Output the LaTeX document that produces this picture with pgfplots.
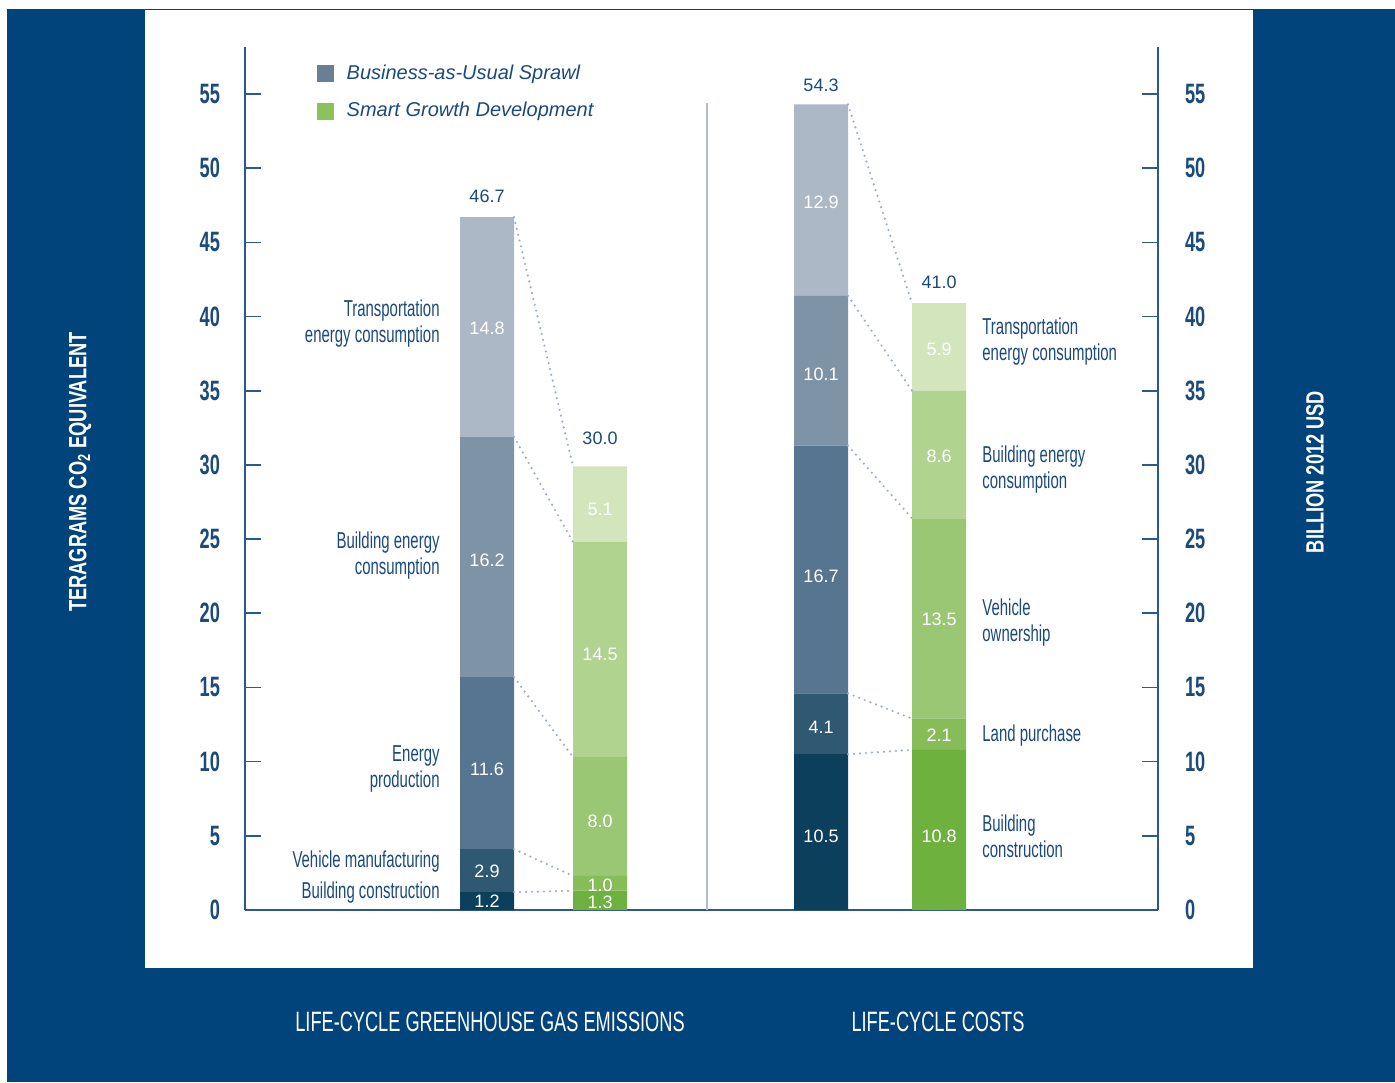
\documentclass[border=0pt]{standalone}
\usepackage{fontspec}
\setmainfont{Liberation Sans}
\newfontfamily\cond[FakeStretch=0.65]{Liberation Sans}
\newfontfamily\condw[FakeStretch=0.73]{Liberation Sans}
\usepackage{pgfplots}
\pgfplotsset{compat=1.18}

\definecolor{navy}{HTML}{00447B}
\definecolor{ink}{HTML}{1B4A7D}
\definecolor{axisc}{HTML}{2A5A8C}
\definecolor{divc}{HTML}{B4BCCB}
\definecolor{dotc}{HTML}{9DADCC}
\definecolor{bauA}{HTML}{0B3F5C}
\definecolor{bauB}{HTML}{2F5873}
\definecolor{bauC}{HTML}{577590}
\definecolor{bauD}{HTML}{7F93A7}
\definecolor{bauE}{HTML}{ADB8C6}
\definecolor{sgA}{HTML}{6EB13F}
\definecolor{sgB}{HTML}{86BD58}
\definecolor{sgC}{HTML}{99C773}
\definecolor{sgD}{HTML}{B0D490}
\definecolor{sgE}{HTML}{D2E5BC}
\definecolor{legbau}{HTML}{687F96}
\definecolor{legsg}{HTML}{8CC15E}

\begin{document}
\begin{tikzpicture}
% page frame, in pixel units of the reference
\begin{scope}[x=0.5pt,y=-0.5pt]
  \fill[white] (0,0) rectangle (1395,1082);
  \fill[navy] (7,9) rectangle (1395,1082);
  \fill[white] (145,10) rectangle (1253,968);
\end{scope}

\pgfplotsset{
  base/.style={
    at={(122.5pt,-455pt)}, anchor=south west,
    scale only axis, width=456.5pt, height=431.5pt,
    xmin=245, xmax=1158, ymin=0, ymax=58.17,
    xtick=\empty, ytick={0,5,...,55},
    tick align=inside, major tick length=8pt,
    tick style={axisc, line width=0.8pt},
    axis line style={axisc, line width=0.9pt, -},
    /pgf/number format/assume math mode=true,
    yticklabel style={font=\cond\bfseries\fontsize{14}{14}\selectfont, text=ink},
  },
}

\begin{axis}[base,
  axis y line*=left, axis x line*=bottom,
  yticklabel style={xshift=-9pt},
  ybar stacked, bar width=54, bar shift=0pt,
  legend style={draw=none, fill=none, at={(0.0717,0.989)}, anchor=north west,
    font=\itshape\fontsize{10}{12}\selectfont, text=ink, row sep=6pt,
    cells={anchor=west}},
  legend image code/.code={\fill[#1] (0pt,-4pt) rectangle (8pt,4pt); \path (12.5pt,0pt);},
]
\addlegendimage{legbau}
\addlegendimage{legsg}
\legend{Business-as-Usual Sprawl, Smart Growth Development}

% Business-as-usual layers (GHG at 487, costs at 821)
\addplot[fill=bauA, draw=none] coordinates {(487,1.2)(600,0)(821,10.5)(939,0)};
\addplot[fill=bauB, draw=none] coordinates {(487,2.9)(600,0)(821,4.1)(939,0)};
\addplot[fill=bauC, draw=none] coordinates {(487,11.6)(600,0)(821,16.7)(939,0)};
\addplot[fill=bauD, draw=none] coordinates {(487,16.2)(600,0)(821,10.1)(939,0)};
\addplot[fill=bauE, draw=none] coordinates {(487,14.8)(600,0)(821,12.9)(939,0)};
% Smart growth layers (GHG at 600, costs at 939)
\addplot[fill=sgA, draw=none] coordinates {(487,0)(600,1.3)(821,0)(939,10.8)};
\addplot[fill=sgB, draw=none] coordinates {(487,0)(600,1.0)(821,0)(939,2.1)};
\addplot[fill=sgC, draw=none] coordinates {(487,0)(600,8.0)(821,0)(939,13.5)};
\addplot[fill=sgD, draw=none] coordinates {(487,0)(600,14.5)(821,0)(939,8.6)};
\addplot[fill=sgE, draw=none] coordinates {(487,0)(600,5.1)(821,0)(939,5.9)};
\end{axis}

% right axis, also carries all annotations (drawn above the bars)
\begin{axis}[base,
  axis y line*=right, axis x line=none,
  yticklabel style={xshift=10pt},
]
% divider
\draw[divc, line width=0.6pt] (axis cs:707,0) -- (axis cs:707,54.4);

% dotted connectors
\tikzset{conn/.style={dotc, line width=1.2pt, line cap=round, dash pattern=on 0pt off 3pt}}
\draw[conn] (axis cs:514,46.7) -- (axis cs:573,29.9);
\draw[conn] (axis cs:514,31.9) -- (axis cs:573,24.8);
\draw[conn] (axis cs:514,15.7) -- (axis cs:573,10.3);
\draw[conn] (axis cs:514,4.1) -- (axis cs:573,2.3);
\draw[conn] (axis cs:514,1.2) -- (axis cs:573,1.3);
\draw[conn] (axis cs:848,54.3) -- (axis cs:912,40.9);
\draw[conn] (axis cs:848,41.4) -- (axis cs:912,35.0);
\draw[conn] (axis cs:848,31.3) -- (axis cs:912,26.4);
\draw[conn] (axis cs:848,14.6) -- (axis cs:912,12.9);
\draw[conn] (axis cs:848,10.5) -- (axis cs:912,10.8);

% values inside bars
\tikzset{inval/.style={white, font=\fontsize{9}{9}\selectfont, inner sep=0pt}}
\node[inval] at (axis cs:487,0.6) {1.2};
\node[inval] at (axis cs:487,2.6) {2.9};
\node[inval] at (axis cs:487,9.5) {11.6};
\node[inval] at (axis cs:487,23.6) {16.2};
\node[inval] at (axis cs:487,39.2) {14.8};
\node[inval] at (axis cs:600,0.55) {1.3};
\node[inval] at (axis cs:600,1.65) {1.0};
\node[inval] at (axis cs:600,5.95) {8.0};
\node[inval] at (axis cs:600,17.2) {14.5};
\node[inval] at (axis cs:600,27.0) {5.1};
\node[inval] at (axis cs:821,5.0) {10.5};
\node[inval] at (axis cs:821,12.3) {4.1};
\node[inval] at (axis cs:821,22.5) {16.7};
\node[inval] at (axis cs:821,36.1) {10.1};
\node[inval] at (axis cs:821,47.7) {12.9};
\node[inval] at (axis cs:939,5.0) {10.8};
\node[inval] at (axis cs:939,11.8) {2.1};
\node[inval] at (axis cs:939,19.6) {13.5};
\node[inval] at (axis cs:939,30.6) {8.6};
\node[inval] at (axis cs:939,37.8) {5.9};

% totals
\tikzset{tot/.style={ink, font=\fontsize{9}{9}\selectfont, inner sep=0pt}}
\node[tot] at (axis cs:487,48.1) {46.7};
\node[tot] at (axis cs:600,31.8) {30.0};
\node[tot] at (axis cs:821,55.6) {54.3};
\node[tot] at (axis cs:939,42.3) {41.0};

% category labels
\tikzset{cat/.style={ink, font=\cond\fontsize{11.5}{13}\selectfont, inner sep=0pt}}
\node[cat, anchor=east, align=right] at (axis cs:440,39.5) {Transportation\\energy consumption};
\node[cat, anchor=east, align=right] at (axis cs:440,23.9) {Building energy\\consumption};
\node[cat, anchor=east, align=right] at (axis cs:440,9.5) {Energy\\production};
\node[cat, anchor=east, align=right] at (axis cs:440,3.3) {Vehicle manufacturing};
\node[cat, anchor=east, align=right] at (axis cs:440,1.2) {Building construction};
\node[cat, anchor=west, align=left] at (axis cs:982,38.35) {Transportation\\energy consumption};
\node[cat, anchor=west, align=left] at (axis cs:982,29.66) {Building energy\\consumption};
\node[cat, anchor=west, align=left] at (axis cs:982,19.35) {Vehicle\\ownership};
\node[cat, anchor=west, align=left] at (axis cs:982,11.73) {Land purchase};
\node[cat, anchor=west, align=left] at (axis cs:982,4.99) {Building\\construction};
\end{axis}

% titles outside the panel
\begin{scope}[x=0.5pt,y=-0.5pt]
  \node[white, font=\cond\fontsize{14}{14}\selectfont] at (490,1022) {LIFE-CYCLE GREENHOUSE GAS EMISSIONS};
  \node[white, font=\cond\fontsize{14}{14}\selectfont] at (938,1022) {LIFE-CYCLE COSTS};
  \node[white, rotate=90, font=\condw\bfseries\fontsize{12.5}{12.5}\selectfont] at (80,472) {TERAGRAMS CO\textsubscript{2} EQUIVALENT};
  \node[white, rotate=90, font=\condw\bfseries\fontsize{12.5}{12.5}\selectfont] at (1315,472) {BILLION 2012 USD};
\end{scope}
\end{tikzpicture}
\end{document}
